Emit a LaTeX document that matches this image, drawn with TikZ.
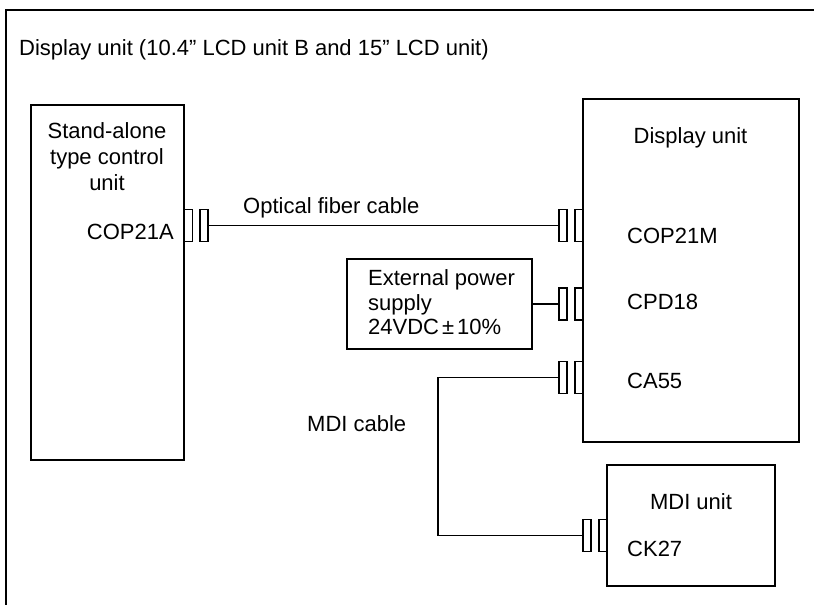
\documentclass[tikz,border=0pt]{standalone}
\usepackage{fontspec}
\setmainfont{Liberation Sans}
\newcommand{\lblfont}{\fontsize{22}{26}\selectfont}
\begin{document}
\begin{tikzpicture}[x=1pt,y=-1pt,
  box/.style={draw, line width=1.4pt, rectangle, inner sep=0pt},
  conn/.style={draw, line width=1.1pt, rectangle, inner sep=0pt, minimum width=8pt, minimum height=32pt},
  wire/.style={line width=1.3pt},
  frame/.style={line width=2pt},
  lbl/.style={inner sep=0pt, font=\lblfont, anchor=base west},
  clbl/.style={inner sep=0pt, font=\lblfont, anchor=base}]
\useasboundingbox (0,0) rectangle (814,605);
% outer frame (open to the right and bottom)
\coordinate (fbl) at (6,606);
\coordinate (ftl) at (6,10);
\coordinate (ftr) at (815,10);
\draw[frame] (fbl) -- (ftl) -- (ftr);
\node[lbl] (title) at (19,55) {Display unit (10.4” LCD unit B and 15” LCD unit)};
% boxes
\node[box, minimum width=153pt, minimum height=355pt] (cu) at (107.5,282.5) {};
\node[box, minimum width=216pt, minimum height=343pt] (du) at (691,270.5) {};
\node[box, minimum width=185pt, minimum height=90pt] (ps) at (439.5,304) {};
\node[box, minimum width=168pt, minimum height=121pt] (mdi) at (691,525.5) {};
% box texts
\node[clbl] (cut1) at (107,138) {Stand-alone};
\node[clbl] (cut2) at (107,164) {type control};
\node[clbl] (cut3) at (107,190) {unit};
\node[lbl, anchor=base east] (cop21a) at (174,239) {COP21A};
\node[clbl] (dut) at (690.5,143) {Display unit};
\node[lbl] (cop21m) at (627,243) {COP21M};
\node[lbl] (cpd18) at (627,309) {CPD18};
\node[lbl] (ca55) at (627,388) {CA55};
\node[lbl] (pst1) at (368,285) {External power};
\node[lbl] (pst2) at (368,310) {supply};
\node[lbl] (pst3) at (368,334) {24VDC\hspace{3pt}±\hspace{3pt}10\%};
\node[clbl] (mdit) at (691,509) {MDI unit};
\node[lbl] (ck27) at (627,556) {CK27};
% connectors
\node[conn] (c1) at (188.5,225.5) {};
\node[conn] (c2) at (204,225.5) {};
\node[conn] (d1) at (563,225.5) {};
\node[conn] (d2) at (579,225.5) {};
\node[conn] (p1) at (563,304) {};
\node[conn] (p2) at (579,304) {};
\node[conn] (a1) at (563,377.5) {};
\node[conn] (a2) at (579,377.5) {};
\node[conn] (m1) at (587,535.5) {};
\node[conn] (m2) at (603,535.5) {};
% cables
\draw[wire] (c2.east) -- (d1.west);
\node[lbl] (oft) at (243,213) {Optical fiber cable};
\draw[wire] (ps.east) -- (p1.west);
\coordinate (bend) at (438,450);
\draw[wire] (a1.west) -| (bend) |- (m1.west);
\node[lbl] (mdic) at (307,431) {MDI cable};
\end{tikzpicture}
\end{document}
